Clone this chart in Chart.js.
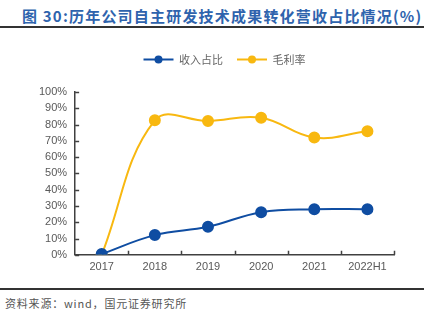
<!DOCTYPE html>
<html>
<head>
<meta charset="utf-8">
<script src="https://cdn.jsdelivr.net/npm/chart.js@4/dist/chart.umd.min.js"></script>
<style>
  body{ margin:0; width:424px; height:326px; background:#fff; position:relative; overflow:hidden; font-family:"Liberation Sans",Arial,sans-serif; }
  #title{ position:absolute; left:22px; top:5px; font-size:15px; font-weight:bold; color:#2e63ad; font-family:"Noto Sans CJK SC",sans-serif; letter-spacing:1.2px; }
  #topline{ position:absolute; left:0; top:26px; width:424px; height:2px; background:#333; }
  #botline{ position:absolute; left:0; top:288px; width:424px; height:2px; background:#333; }
  #source{ position:absolute; left:5px; top:295px; font-size:11px; color:#555; font-family:"Noto Sans CJK SC",sans-serif; letter-spacing:0.8px; }
  #wrap{ position:absolute; left:0; top:40px; width:424px; height:240px; }
</style>
</head>
<body>
<div id="title">图 30:历年公司自主研发技术成果转化营收占比情况(%)</div>
<div id="topline"></div>
<div id="wrap"><canvas id="c"></canvas></div>
<div id="botline"></div>
<div id="source">资料来源：wind，国元证券研究所</div>
<script>
const YEARS = ['2017','2018','2019','2020','2021','2022H1'];
const REVENUE_SHARE = [0.5, 12.1, 17.2, 26.2, 28.0, 28.0];
const GROSS_MARGIN = [0, 82.6, 82.2, 84.2, 72.0, 75.9];

const BLUE = '#0f4da2';
const GOLD = '#f8b810';
const AXIS = '#404040';

// inward tick marks like the original
const innerTicks = {
  id: 'innerTicks',
  afterDraw(chart){
    const ctx = chart.ctx, a = chart.chartArea;
    const x = chart.scales.x, y = chart.scales.y;
    ctx.save();
    ctx.strokeStyle = AXIS; ctx.lineWidth = 1.5;
    ctx.beginPath();
    y.ticks.forEach(t => {
      const py = Math.round(y.getPixelForValue(t.value)) + 0.5;
      ctx.moveTo(a.left, py); ctx.lineTo(a.left + 4, py);
    });
    const n = YEARS.length;
    for(let i = 1; i <= n; i++){
      const px = Math.round(x.getPixelForValue(i - 0.5)) + 0.5;
      ctx.moveTo(px, a.bottom); ctx.lineTo(px, a.bottom - 4);
    }
    ctx.stroke();
    ctx.restore();
  }
};

// extra room under the legend, and nudge it right a bit
const legendGap = {
  id: 'legendGap',
  beforeInit(chart){
    const fit = chart.legend.fit;
    chart.legend.fit = function(){ fit.call(this); this.height += 17; };
  },
  afterLayout(chart){
    chart.legend.left += 12;
    chart.legend.right += 12;
  }
};

new Chart(document.getElementById('c'), {
  type: 'line',
  data: {
    labels: YEARS,
    datasets: [
      { label:'收入占比', data: REVENUE_SHARE, borderColor: BLUE, backgroundColor: BLUE,
        borderWidth: 2, pointRadius: 5, pointHoverRadius: 5, tension: 0.4 },
      { label:'毛利率', data: GROSS_MARGIN, borderColor: GOLD, backgroundColor: GOLD,
        borderWidth: 2, pointRadius: 5, pointHoverRadius: 5, tension: 0.4 }
    ]
  },
  options: {
    responsive: true, maintainAspectRatio: false, animation: false,
    layout: { padding: { left: 31, right: 30, top: 0, bottom: 0 } },
    plugins: {
      legend: {
        position: 'top',
        labels: {
          boxWidth: 30, boxHeight: 2,
          color: '#666', font: { family: '"Noto Sans CJK SC"', size: 11 },
          padding: 14,
          generateLabels(chart){
            return chart.data.datasets.map((d, i) => ({
              text: d.label, fillStyle: d.borderColor, strokeStyle: d.borderColor,
              lineWidth: 0, datasetIndex: i, fontColor: '#666'
            }));
          }
        }
      },
      tooltip: { enabled: false }
    },
    scales: {
      x: {
        offset: true,
        grid: { display: false, drawTicks: false },
        border: { color: AXIS, width: 1.5 },
        ticks: { color: '#595959', font: { family: '"Liberation Sans"', size: 11 }, padding: 6 }
      },
      y: {
        min: 0, max: 100,
        grid: { display: false, drawTicks: false },
        border: { color: AXIS, width: 1.5 },
        ticks: { stepSize: 10, autoSkip: false, color: '#595959', font: { family: '"Liberation Sans"', size: 11 }, padding: 8,
          callback: v => v + '%' }
      }
    }
  },
  plugins: [innerTicks, legendGap, {
    id: 'legendDots',
    afterDraw(chart){
      const lg = chart.legend, ctx = chart.ctx;
      lg.legendHitBoxes.forEach((b, i) => {
        ctx.save();
        ctx.fillStyle = chart.data.datasets[i].borderColor;
        ctx.beginPath();
        ctx.arc(b.left + 15, b.top + b.height/2, 4, 0, Math.PI*2);
        ctx.fill();
        ctx.restore();
      });
    }
  }]
});
</script>
</body>
</html>
